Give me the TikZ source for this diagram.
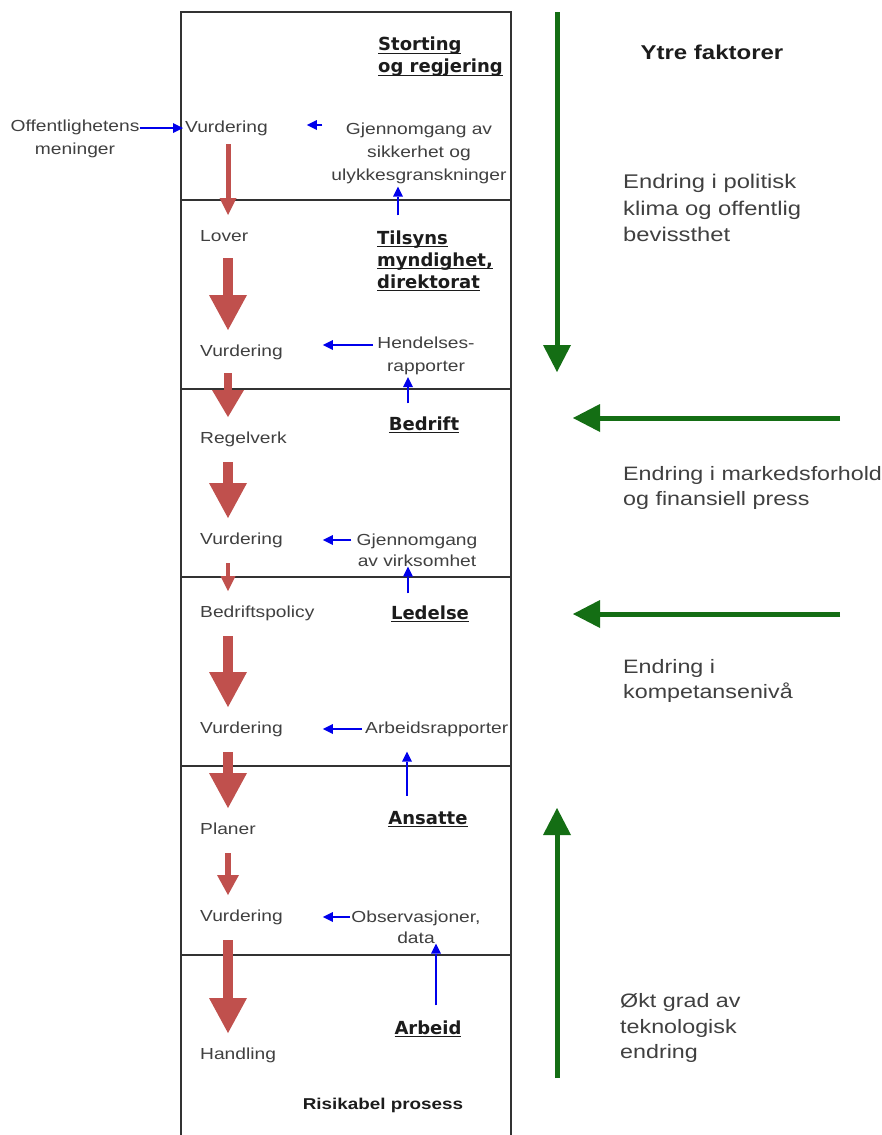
\documentclass[tikz,border=0pt]{standalone}
\usepackage{fontspec}
\setmainfont{Liberation Sans}[FakeStretch=1.2]
\newfontfamily\headfont{DejaVu Sans}
\usetikzlibrary{arrows.meta,calc}

\definecolor{txt}{RGB}{64,64,64}
\definecolor{ink}{RGB}{28,28,28}
\definecolor{flowred}{RGB}{192,80,77}
\definecolor{factgreen}{RGB}{20,110,20}
\definecolor{linkblue}{RGB}{0,0,235}
\definecolor{frame}{RGB}{50,50,50}

% underline that sits just below the baseline
\newlength\ulwidth
\newcommand\ulword[1]{\settowidth\ulwidth{#1}\rlap{\rule[-3pt]{\ulwidth}{1.3pt}}#1}

\tikzset{
  lbl/.style={font=\fontsize{16}{23}\selectfont, text=txt, inner sep=0pt,
              text height=12pt, text depth=3pt},
  lblc/.style={font=\fontsize{16}{23}\selectfont, text=txt, inner sep=0pt, align=center},
  actor/.style={font=\headfont\bfseries\fontsize{18}{22}\selectfont, text=ink,
                inner sep=0pt, align=left},
  factor/.style={font=\fontsize{19.4}{26}\selectfont, text=txt, inner sep=0pt,
                 align=left, anchor=west},
  heading/.style={font=\bfseries\fontsize{#1}{#1}\selectfont, text=ink, inner sep=0pt},
  flow/.style n args={3}{draw=flowred, line width=#1,
              -{Triangle[width=#2,length=#3,line width=0pt]},
              shorten <=23pt, shorten >=22pt},
  link/.style={draw=linkblue, line width=1.2pt,
              -{Triangle[width=10pt,length=10pt,line width=0pt]}},
  pressure/.style={draw=factgreen, line width=5pt,
              -{Triangle[width=28pt,length=27pt,line width=0pt]}},
  framing/.style={draw=frame, line width=1.5pt},
}

\begin{document}
\begin{tikzpicture}[x=1pt,y=-1pt]
\fill[white] (0,0) rectangle (881,1135);
\useasboundingbox (0,0) rectangle (881,1135);

% levels of the system
\draw[framing] (181,12) rectangle (511,1150);
\foreach \yy in {200,389,577,766,955}
  \draw[framing] (181,\yy) -- (511,\yy);

% left column: decisions flowing downwards
\node[lbl, anchor=west] (v1) at (185,128) {Vurdering};
\node[lbl, anchor=west] (lover) at (200,237) {Lover};
\node[lbl, anchor=west] (v2) at (200,352) {Vurdering};
\node[lbl, anchor=west] (regel) at (200,439) {Regelverk};
\node[lbl, anchor=west] (v3) at (200,540) {Vurdering};
\node[lbl, anchor=west] (policy) at (200,613) {Bedriftspolicy};
\node[lbl, anchor=west] (v4) at (200,729) {Vurdering};
\node[lbl, anchor=west] (planer) at (200,830) {Planer};
\node[lbl, anchor=west] (v5) at (200,917) {Vurdering};
\node[lbl, anchor=west] (handling) at (200,1055) {Handling};

\coordinate (rx) at (228,0);
\draw[flow={5pt}{17pt}{17pt}, shorten <=16pt] (v1 -| rx) -- (lover -| rx);
\draw[flow={10pt}{38pt}{35pt}, shorten <=21pt] (lover -| rx) -- (v2 -| rx);
\draw[flow={8pt}{32pt}{27pt}, shorten <=21pt] (v2 -| rx) -- (regel -| rx);
\draw[flow={10pt}{38pt}{35pt}] (regel -| rx) -- (v3 -| rx);
\draw[flow={4pt}{15pt}{15pt}] (v3 -| rx) -- (policy -| rx);
\draw[flow={10pt}{38pt}{35pt}] (policy -| rx) -- (v4 -| rx);
\draw[flow={10pt}{38pt}{35pt}] (v4 -| rx) -- (planer -| rx);
\draw[flow={6pt}{22pt}{20pt}] (planer -| rx) -- (v5 -| rx);
\draw[flow={10pt}{38pt}{35pt}] (v5 -| rx) -- (handling -| rx);

% right column: actors and feedback
\node[actor, anchor=west] (storting) at (378,57) {\ulword{Storting}\\\ulword{og regjering}};
\node[lblc] (gjsik) at (419,153) {Gjennomgang av\\sikkerhet og\\ulykkesgranskninger};
\node[actor, anchor=west] (tilsyn) at (377,261) {\ulword{Tilsyns}\\\ulword{myndighet,}\\\ulword{direktorat}};
\node[lblc] (hend) at (426,356) {Hendelses-\\rapporter};
\node[actor] (bedrift) at (424,425) {\ulword{Bedrift}};
\node[lblc, font=\fontsize{16}{21}\selectfont] (gjvirk) at (417,550) {Gjennomgang\\av virksomhet};
\node[actor] (ledelse) at (430,614) {\ulword{Ledelse}};
\node[lbl, anchor=west] (arbrap) at (365,729) {Arbeidsrapporter};
\node[actor] (ansatte) at (428,819) {\ulword{Ansatte}};
\node[lblc, font=\fontsize{16}{21}\selectfont] (obs) at (416,927) {Observasjoner,\\data};
\node[actor] (arbeid) at (428,1029) {\ulword{Arbeid}};
\node[heading=15.7] (risk) at (383,1105) {Risikabel prosess};

\node[lblc] (off) at (75,139) {Offentlighetens\\meninger};

% feedback links
\draw[link, shorten >=2pt] ([yshift=11pt]off.east) coordinate (o1) -- (o1 -| v1.west);
\draw[link, shorten <=9pt, shorten >=39pt] ([yshift=28pt]gjsik.west) coordinate (g1) -- (g1 -| v1.east);
\coordinate (bx1) at (398,0);
\draw[link, shorten <=15pt, shorten >=3pt] (tilsyn.north -| bx1) -- (gjsik.south -| bx1);
\draw[link, shorten >=40pt] ([xshift=-4pt,yshift=11pt]hend.west) coordinate (h1) -- (h1 -| v2.east);
\coordinate (bx2) at (408,0);
\draw[link, shorten <=13pt, shorten >=2pt] (bedrift.north -| bx2) -- (hend.south -| bx2);
\draw[link, shorten >=40pt] ([xshift=-5pt,yshift=10pt]gjvirk.west) coordinate (gv1) -- (gv1 -| v3.east);
\draw[link, shorten <=12pt, shorten >=0pt] (ledelse.north -| bx2) -- (gjvirk.south -| bx2);
\draw[link, shorten >=40pt] ([xshift=-3pt]arbrap.west) coordinate (a1) -- (a1 -| v4.east);
\coordinate (bx3) at (407,0);
\draw[link, shorten <=15pt, shorten >=15pt] (ansatte.north -| bx3) -- (arbrap.south -| bx3);
\draw[link, shorten >=40pt] ([xshift=-1pt,yshift=10pt]obs.west) coordinate (ob1) -- (ob1 -| v5.east);
\coordinate (bx4) at (436,0);
\draw[link, shorten <=15pt] (arbeid.north -| bx4) -- (obs.south -| bx4);

% external factors
\node[heading=20] (ytre) at (712,52) {Ytre faktorer};
\node[factor, font=\fontsize{19.8}{26.5}\selectfont] (pol) at (623,208) {Endring i politisk\\klima og offentlig\\bevissthet};
\node[factor, font=\fontsize{19.4}{25}\selectfont] (marked) at (623,488) {Endring i markedsforhold\\og finansiell press};
\node[factor, font=\fontsize{19.4}{25}\selectfont] (komp) at (623,681) {Endring i\\kompetansenivå};
\node[factor, font=\fontsize{19.4}{25.5}\selectfont] (tekn) at (620,1028) {Økt grad av\\teknologisk\\endring};

\coordinate (pd1) at (557,12);
\coordinate (pd2) at (557,372);
\coordinate (pm1) at (840,418);
\coordinate (pm2) at (573,418);
\coordinate (pk1) at (840,614);
\coordinate (pk2) at (573,614);
\coordinate (pt1) at (557,1078);
\coordinate (pt2) at (557,808);
\draw[pressure] (pd1) -- (pd2);
\draw[pressure] (pm1) -- (pm2);
\draw[pressure] (pk1) -- (pk2);
\draw[pressure] (pt1) -- (pt2);
\end{tikzpicture}
\end{document}
